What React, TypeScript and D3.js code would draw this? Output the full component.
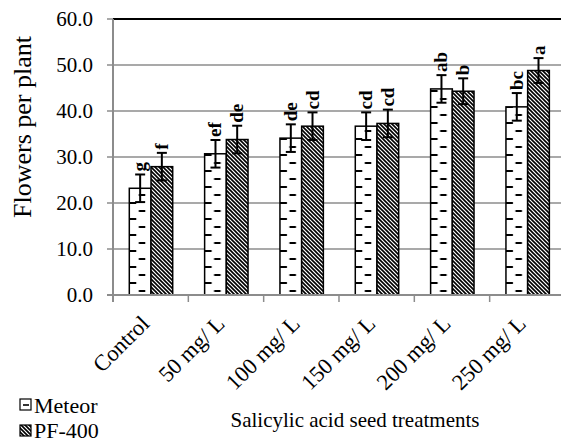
import React from "react";
import * as d3 from "d3";

const categories = ["Control", "50 mg/ L", "100 mg/ L", "150 mg/ L", "200 mg/ L", "250 mg/ L"];
const meteor = [23.2, 30.7, 34.1, 36.7, 44.8, 40.9];
const meteorErr = [3.0, 3.0, 3.0, 3.0, 3.0, 3.0];
const meteorLetters = ["g", "ef", "de", "cd", "ab", "bc"];
const pf = [27.9, 33.8, 36.7, 37.3, 44.3, 48.8];
const pfErr = [3.0, 3.0, 3.0, 3.0, 2.8, 2.7];
const pfLetters = ["f", "de", "cd", "cd", "b", "a"];
const yTicks = [0, 10, 20, 30, 40, 50, 60];

const W = 561, H = 442;
const font = "'Liberation Serif', 'Times New Roman', serif";

export default function App() {
    const left = 113, top = 19, bottom = 295;
    const step = 75.33;

    const x = d3.scaleBand<string>()
        .domain(categories)
        .range([left, left + step * categories.length])
        .padding(0);
    const x1 = d3.scaleBand<string>()
        .domain(["meteor", "pf"])
        .range([16.3, 59.7])
        .padding(0);
    const y = d3.scaleLinear().domain([0, 60]).range([bottom, top]);
    const fmt = d3.format(".1f");

    const series = [
        { key: "meteor", values: meteor, err: meteorErr, letters: meteorLetters },
        { key: "pf", values: pf, err: pfErr, letters: pfLetters },
    ];

    const grey = "#8c8c8c";
    const bw = x1.bandwidth();

    return (
        <svg width={W} height={H} style={{ position: "absolute", left: 0, top: 0 }}
             fontFamily={font}>
            <defs>
                {categories.map((c, i) => (
                    <pattern key={c} id={"dash" + i} patternUnits="userSpaceOnUse" width={bw} height="16"
                             x={(x(c) as number) + (x1("meteor") as number)} y={bottom}>
                        <rect width={bw} height="16" fill="#fff" />
                        <line x1="0" x2="7" y1="4" y2="4" stroke="#000" strokeWidth="2" />
                        <line x1="9.5" x2="16" y1="12" y2="12" stroke="#000" strokeWidth="2" />
                    </pattern>
                ))}
                <pattern id="hatch" patternUnits="userSpaceOnUse" width="4" height="4">
                    <rect width="4" height="4" fill="#fff" />
                    <path d="M-1,-1L5,5M-1,3L1,5M3,-1L5,1" stroke="#000" strokeWidth="1.6" />
                </pattern>
                <pattern id="dashL" patternUnits="userSpaceOnUse" width="12" height="12" x="20" y="399">
                    <rect width="12" height="12" fill="#fff" />
                    <line x1="3" x2="9" y1="6" y2="6" stroke="#000" strokeWidth="1.6" />
                </pattern>
            </defs>

            {/* gridlines */}
            {yTicks.filter(t => t > 0 && t < 60).map(t => (
                <line key={t} x1={left} x2={W} y1={y(t)} y2={y(t)} stroke={grey} strokeWidth={1.5} />
            ))}
            <line x1={left} x2={W} y1={y(60)} y2={y(60)} stroke="#000" strokeWidth={2} />

            {/* y axis */}
            <line x1={left} x2={left} y1={top} y2={bottom + 7} stroke={grey} strokeWidth={2} />
            {yTicks.map(t => (
                <g key={t}>
                    <line x1={left - 6} x2={left} y1={y(t)} y2={y(t)} stroke={grey} strokeWidth={1.5} />
                    <text x={left - 20} y={y(t)} dy="0.35em" textAnchor="end" fontSize={21}>{fmt(t)}</text>
                </g>
            ))}

            {/* bars */}
            {series.map(s => categories.map((c, i) => {
                const bx = (x(c) as number) + (x1(s.key) as number);
                const cx = bx + bw / 2;
                const v = s.values[i];
                const hi = y(v + s.err[i]);
                const lo = y(v - s.err[i]);
                return (
                    <g key={s.key + c}>
                        <rect x={bx} y={y(v)} width={bw} height={bottom - y(v)}
                              fill={s.key === "meteor" ? `url(#dash${i})` : "url(#hatch)"}
                              stroke="#000" strokeWidth={1.5} />
                        <line x1={cx} x2={cx} y1={hi} y2={lo} stroke="#000" strokeWidth={2} />
                        <line x1={cx - 5} x2={cx + 5} y1={hi} y2={hi} stroke="#000" strokeWidth={2} />
                        <line x1={cx - 5} x2={cx + 5} y1={lo} y2={lo} stroke="#000" strokeWidth={2} />
                        <text transform={`translate(${cx + 6},${hi - 3}) rotate(-90)`} fontSize={19}
                              fontWeight="bold">{s.letters[i]}</text>
                    </g>
                );
            }))}

            {/* x axis */}
            <line x1={left - 6} x2={W} y1={bottom} y2={bottom} stroke={grey} strokeWidth={2} />
            {categories.map(c => (
                <line key={c} x1={x(c)} x2={x(c)} y1={bottom} y2={bottom + 7} stroke={grey} strokeWidth={1.5} />
            ))}
            {categories.map(c => {
                const cx = (x(c) as number) + x.bandwidth() / 2;
                return (
                    <text key={c} transform={`translate(${cx},${bottom + 30}) rotate(-45)`}
                          textAnchor="end" fontSize={22.5}>{c}</text>
                );
            })}

            <text x={355} y={427} textAnchor="middle" fontSize={21}>Salicylic acid seed treatments</text>
            <text transform={`translate(31,127) rotate(-90)`} textAnchor="middle"
                  fontSize={26}>Flowers per plant</text>

            {/* legend */}
            <rect x={20} y={399} width={11} height={11} fill="url(#dashL)" stroke="#000" strokeWidth={1.2} />
            <text x={34} y={413} fontSize={22}>Meteor</text>
            <rect x={20} y={425} width={11} height={11} fill="url(#hatch)" stroke="#000" strokeWidth={1.2} />
            <text x={34} y={438} fontSize={22}>PF-400</text>
        </svg>
    );
}
